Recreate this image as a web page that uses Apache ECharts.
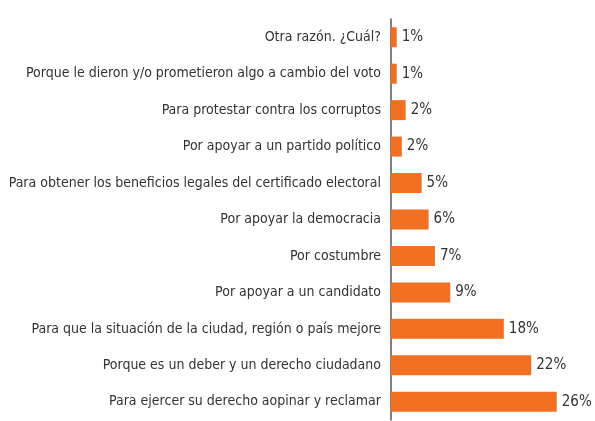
<!DOCTYPE html>
<html>
<head>
<meta charset="utf-8">
<script src="https://cdn.jsdelivr.net/npm/echarts@6/dist/echarts.min.js"></script>
<style>
  html, body { margin: 0; padding: 0; background: #fff; }
  #chart { width: 595px; height: 421px; }
</style>
</head>
<body>
<div id="chart"></div>
<script>
// categorias de arriba hacia abajo
const categories = [
    'Otra razón. ¿Cuál?',
    'Porque le dieron y/o prometieron algo a cambio del voto',
    'Para protestar contra los corruptos',
    'Por apoyar a un partido político',
    'Para obtener los beneficios legales del certificado electoral',
    'Por apoyar la democracia',
    'Por costumbre',
    'Por apoyar a un candidato',
    'Para que la situación de la ciudad, región o país mejore',
    'Porque es un deber y un derecho ciudadano',
    'Para ejercer su derecho aopinar y reclamar'
];
const values = [0.9, 0.9, 2.3, 1.7, 4.8, 5.9, 6.9, 9.3, 17.7, 22.0, 26.0];
// etiquetas tal como aparecen
const valueLabels = ['1%', '1%', '2%', '2%', '5%', '6%', '7%', '9%', '18%', '22%', '26%'];

const font = '"Liberation Sans Narrow", "DejaVu Sans Condensed", sans-serif';

var myChart = echarts.init(document.getElementById('chart'), null, { renderer: 'canvas' });
var option = {
    animation: false,
    grid: {
        left: 391,
        right: 0,
        top: 19,
        bottom: 1,
        containLabel: false,
        outerBoundsMode: 'none'
    },
    xAxis: {
        type: 'value',
        min: 0,
        max: 32,
        show: false
    },
    yAxis: {
        type: 'category',
        inverse: true,
        data: categories,
        axisTick: { show: false },
        axisLine: {
            show: true,
            lineStyle: { color: '#555', width: 1.5 }
        },
        axisLabel: {
            margin: 10,
            interval: 0,
            fontSize: 14,
            fontFamily: font,
            color: '#333'
        }
    },
    series: [
        {
            type: 'bar',
            data: values,
            barWidth: 20,
            itemStyle: {
                color: '#f36f21'
            },
            label: {
                show: true,
                position: 'right',
                distance: 5,
                fontSize: 15,
                fontFamily: font,
                color: '#333',
                formatter: function (p) { return valueLabels[p.dataIndex]; }
            }
        }
    ]
};
myChart.setOption(option);
</script>
</body>
</html>
